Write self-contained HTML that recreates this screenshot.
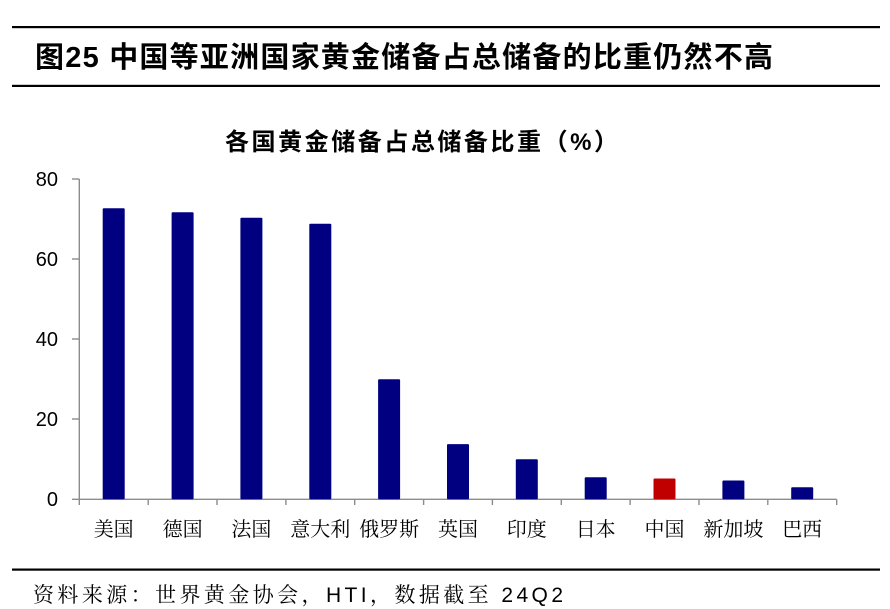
<!DOCTYPE html>
<html>
<head>
<meta charset="utf-8">
<style>
html,body{margin:0;padding:0;background:#fff;}
svg{display:block;}
</style>
</head>
<body>
<svg width="890" height="609" viewBox="0 0 890 609" xmlns="http://www.w3.org/2000/svg">
  <rect width="890" height="609" fill="#fff"/>
  <!-- header lines -->
  <rect x="12" y="26" width="868" height="2.2" fill="#000"/>
  <rect x="12" y="84.8" width="868" height="2.2" fill="#000"/>
  <text x="35" y="67" font-family="'Liberation Sans','Noto Sans CJK SC',sans-serif" font-weight="bold" font-size="29" textLength="738" lengthAdjust="spacing" fill="#000">图25 中国等亚洲国家黄金储备占总储备的比重仍然不高</text>

  <!-- chart title -->
  <text x="225" y="150" font-family="'Liberation Sans','Noto Sans CJK SC',sans-serif" font-weight="bold" font-size="24" textLength="393" lengthAdjust="spacing" fill="#000">各国黄金储备占总储备比重（%）</text>

  <!-- axes -->
  <g stroke="#8c8c8c" stroke-width="1.4" fill="none">
    <line x1="79.3" y1="179" x2="79.3" y2="505"/>
    <line x1="72" y1="179" x2="79.3" y2="179"/>
    <line x1="72" y1="259" x2="79.3" y2="259"/>
    <line x1="72" y1="339" x2="79.3" y2="339"/>
    <line x1="72" y1="419" x2="79.3" y2="419"/>
    <line x1="72" y1="499.3" x2="836.7" y2="499.3"/>
    <line x1="148.2" y1="499.3" x2="148.2" y2="505"/>
    <line x1="217" y1="499.3" x2="217" y2="505"/>
    <line x1="285.9" y1="499.3" x2="285.9" y2="505"/>
    <line x1="354.7" y1="499.3" x2="354.7" y2="505"/>
    <line x1="423.6" y1="499.3" x2="423.6" y2="505"/>
    <line x1="492.4" y1="499.3" x2="492.4" y2="505"/>
    <line x1="561.3" y1="499.3" x2="561.3" y2="505"/>
    <line x1="630.1" y1="499.3" x2="630.1" y2="505"/>
    <line x1="699" y1="499.3" x2="699" y2="505"/>
    <line x1="767.8" y1="499.3" x2="767.8" y2="505"/>
    <line x1="836.7" y1="499.3" x2="836.7" y2="505"/>
  </g>

  <!-- y labels -->
  <g font-family="'Liberation Sans',sans-serif" font-size="20" fill="#000" text-anchor="end">
    <text x="58" y="186">80</text>
    <text x="58" y="266">60</text>
    <text x="58" y="346">40</text>
    <text x="58" y="426">20</text>
    <text x="58" y="506">0</text>
  </g>

  <!-- bars -->
  <g fill="#000080">
    <rect x="102.7" y="208.2" width="22" height="291.1" rx="1"/>
    <rect x="171.6" y="212.2" width="22" height="287.1" rx="1"/>
    <rect x="240.4" y="217.8" width="22" height="281.5" rx="1"/>
    <rect x="309.3" y="223.8" width="22" height="275.5" rx="1"/>
    <rect x="378.1" y="379.2" width="22" height="120.1" rx="1"/>
    <rect x="447" y="444.1" width="22" height="55.2" rx="1"/>
    <rect x="515.8" y="459.3" width="22" height="40" rx="1"/>
    <rect x="584.7" y="477.3" width="22" height="22" rx="1"/>
    <rect x="722.4" y="480.5" width="22" height="18.8" rx="1"/>
    <rect x="791.2" y="487.3" width="22" height="12" rx="1"/>
  </g>
  <rect x="653.5" y="478.5" width="22" height="20.8" rx="1" fill="#C00000"/>

  <!-- x labels -->
  <g font-family="'Liberation Serif','Noto Serif CJK SC',serif" font-size="20" fill="#000" text-anchor="middle">
    <text x="113.7" y="536">美国</text>
    <text x="182.6" y="536">德国</text>
    <text x="251.4" y="536">法国</text>
    <text x="320.3" y="536">意大利</text>
    <text x="389.1" y="536">俄罗斯</text>
    <text x="458" y="536">英国</text>
    <text x="526.8" y="536">印度</text>
    <text x="595.7" y="536">日本</text>
    <text x="664.5" y="536">中国</text>
    <text x="733.4" y="536">新加坡</text>
    <text x="802.2" y="536">巴西</text>
  </g>

  <!-- footer -->
  <rect x="12" y="568.5" width="868" height="2.2" fill="#000"/>
  <text x="33" y="602" font-family="'Liberation Sans','Noto Serif CJK SC',serif" font-size="21" textLength="530" lengthAdjust="spacing" fill="#000">资料来源：世界黄金协会，HTI，数据截至 24Q2</text>
</svg>
</body>
</html>
